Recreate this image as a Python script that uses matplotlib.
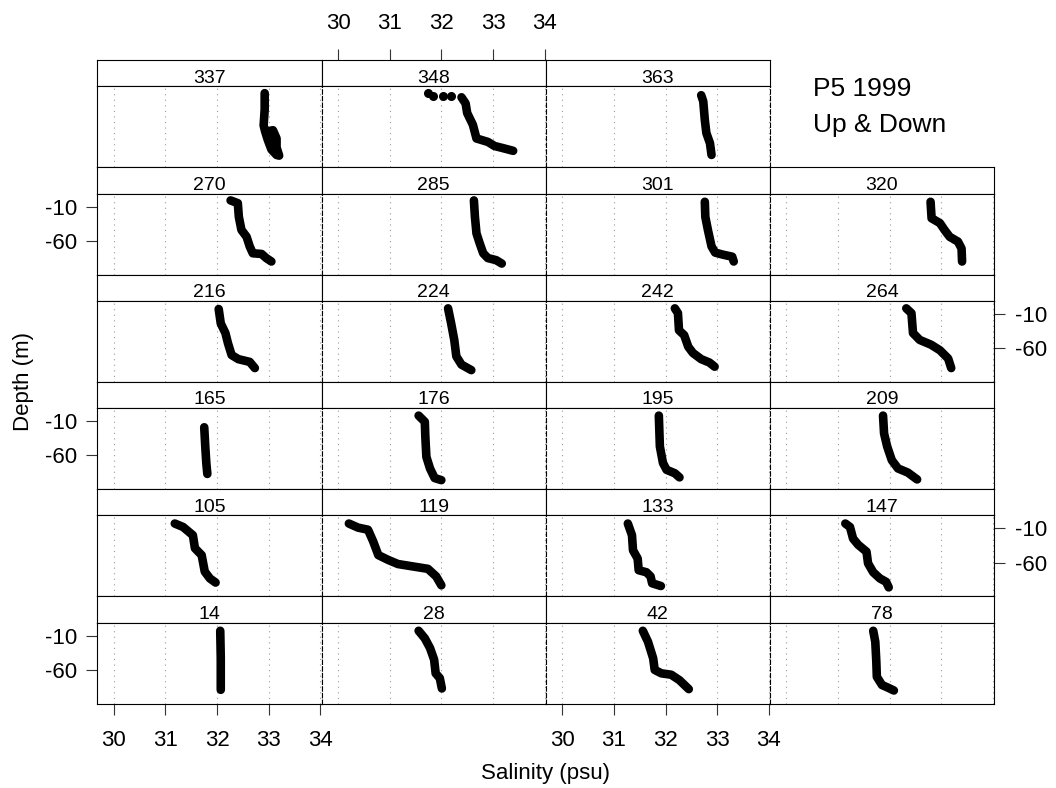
import matplotlib
matplotlib.use("Agg")
import matplotlib.pyplot as plt

plt.rcParams['font.family'] = ['Liberation Sans', 'DejaVu Sans']
plt.rcParams['axes.unicode_minus'] = False

# salinity (psu) / depth (m) profiles, one pair per station
sal_14 = [32.06, 32.07, 32.07]
dep_14 = [-3, -43, -89]
sal_28 = [31.56, 31.68, 31.78, 31.86, 31.89, 31.97, 32.01]
dep_28 = [-3, -14, -28, -45, -65, -72, -87]
sal_42 = [31.56, 31.66, 31.76, 31.79, 31.92, 32.11, 32.27, 32.45]
dep_42 = [-3, -19, -43, -60, -65, -67, -75, -88]
sal_78 = [31.68, 31.72, 31.74, 31.75, 31.85, 31.97, 32.08]
dep_78 = [-3, -19, -48, -70, -82, -86, -90]
sal_105 = [31.18, 31.34, 31.53, 31.57, 31.70, 31.76, 31.86, 31.97]
dep_105 = [-3, -8, -20, -39, -49, -73, -83, -89]
sal_119 = [30.21, 30.39, 30.58, 30.68, 30.78, 30.97, 31.16, 31.49, 31.74, 31.90, 32.00]
dep_119 = [-3, -9, -12, -29, -49, -56, -62, -66, -69, -80, -93]
sal_133 = [31.27, 31.35, 31.37, 31.46, 31.48, 31.63, 31.71, 31.74, 31.91]
dep_133 = [-3, -20, -42, -54, -71, -74, -80, -90, -94]
sal_147 = [31.14, 31.23, 31.29, 31.39, 31.55, 31.58, 31.68, 31.81, 31.93, 31.98]
dep_147 = [-3, -8, -25, -34, -44, -61, -74, -83, -88, -96]
sal_165 = [31.75, 31.77, 31.79, 31.81]
dep_165 = [-19, -47, -71, -87]
sal_176 = [31.56, 31.68, 31.69, 31.71, 31.78, 31.87, 32.00]
dep_176 = [-2, -11, -33, -62, -79, -93, -96]
sal_195 = [31.87, 31.89, 31.95, 32.02, 32.18, 32.27]
dep_195 = [-2, -47, -71, -81, -86, -92]
sal_209 = [31.87, 31.89, 31.95, 32.04, 32.16, 32.35, 32.53]
dep_209 = [-2, -28, -47, -67, -79, -85, -95]
sal_216 = [32.03, 32.07, 32.16, 32.21, 32.28, 32.41, 32.63, 32.73]
dep_216 = [-3, -24, -38, -53, -70, -76, -80, -89]
sal_224 = [32.13, 32.19, 32.25, 32.29, 32.39, 32.58]
dep_224 = [-2, -24, -48, -72, -84, -92]
sal_242 = [32.18, 32.24, 32.26, 32.36, 32.44, 32.53, 32.69, 32.85, 32.95]
dep_242 = [-2, -9, -34, -41, -58, -67, -76, -81, -87]
sal_264 = [32.32, 32.42, 32.45, 32.58, 32.80, 32.97, 33.13, 33.19]
dep_264 = [-2, -9, -38, -48, -55, -63, -75, -89]
sal_270 = [32.26, 32.40, 32.42, 32.47, 32.57, 32.63, 32.69, 32.86, 32.95, 33.05]
dep_270 = [-1, -5, -25, -44, -54, -68, -78, -79, -85, -90]
sal_285 = [32.63, 32.65, 32.68, 32.74, 32.81, 32.90, 33.06, 33.17]
dep_285 = [-1, -25, -49, -63, -78, -85, -88, -93]
sal_301 = [32.76, 32.77, 32.82, 32.89, 32.96, 33.11, 33.29, 33.32]
dep_301 = [-3, -25, -44, -68, -77, -80, -83, -90]
sal_320 = [32.79, 32.81, 32.97, 33.06, 33.16, 33.32, 33.39, 33.40]
dep_320 = [-3, -27, -34, -44, -54, -61, -71, -90]
sal_337 = [32.92, 32.92, 32.90, 32.93, 32.98, 33.05, 33.15, 33.20, 33.15, 33.15, 33.08, 32.95]
dep_337 = [-1, -25, -48, -57, -69, -83, -91, -92, -80, -67, -55, -57]
sal_348 = [32.39, 32.47, 32.50, 32.61, 32.68, 32.90, 33.03, 33.19, 33.39]
dep_348 = [-7, -16, -30, -47, -67, -72, -78, -81, -85]
sal_348_surface = [31.74, 31.84, 32.03, 32.18]
dep_348_surface = [-1, -5, -5, -5]
sal_363 = [32.69, 32.73, 32.76, 32.79, 32.86, 32.89]
dep_363 = [-4, -13, -40, -59, -74, -91]

# panel layout, top row first (lattice fills from the bottom left)
panel_rows = [
    [337, 348, 363, None],
    [270, 285, 301, 320],
    [216, 224, 242, 264],
    [165, 176, 195, 209],
    [105, 119, 133, 147],
    [14, 28, 42, 78],
]
profiles = {
    14: (sal_14, dep_14), 28: (sal_28, dep_28), 42: (sal_42, dep_42), 78: (sal_78, dep_78),
    105: (sal_105, dep_105), 119: (sal_119, dep_119), 133: (sal_133, dep_133), 147: (sal_147, dep_147),
    165: (sal_165, dep_165), 176: (sal_176, dep_176), 195: (sal_195, dep_195), 209: (sal_209, dep_209),
    216: (sal_216, dep_216), 224: (sal_224, dep_224), 242: (sal_242, dep_242), 264: (sal_264, dep_264),
    270: (sal_270, dep_270), 285: (sal_285, dep_285), 301: (sal_301, dep_301), 320: (sal_320, dep_320),
    337: (sal_337, dep_337), 348: (sal_348, dep_348), 363: (sal_363, dep_363),
}
x_ticks = [30, 31, 32, 33, 34]
y_ticks = [-10, -60]

W, H = 1056, 788
LEFT, PW = 97.3, 224.2
TOP, ROW_H, STRIP_H, PANEL_H = 60.0, 107.25, 26.3, 81.0
XLIM = (29.68, 34.02)
YLIM = (-109, 9)

fig = plt.figure(figsize=(W / 100, H / 100), dpi=100)


def rect(x, y, w, h):
    return [x / W, 1 - (y + h) / H, w / W, h / H]


tick_kw = dict(length=7.7, width=0.8, color='#333333', labelsize=16)

for r, row in enumerate(panel_rows):
    for c, st in enumerate(row):
        if st is None:
            continue
        x0 = LEFT + c * PW
        y0 = TOP + r * ROW_H

        # strip
        sax = fig.add_axes(rect(x0, y0, PW, STRIP_H))
        sax.set_xlim(*XLIM)
        sax.set_ylim(0, 1)
        sax.set_yticks([])
        sax.text(0.5, 0.14, str(st), transform=sax.transAxes, ha='center',
                 va='baseline', fontsize=14)
        for sp in sax.spines.values():
            sp.set_linewidth(0.8)
        if r == 0 and c == 1:
            sax.set_xticks(x_ticks)
            sax.tick_params(axis='x', top=True, labeltop=True, bottom=False,
                            labelbottom=False, pad=11, **tick_kw)
        else:
            sax.set_xticks([])

        # panel
        ax = fig.add_axes(rect(x0, y0 + STRIP_H, PW, PANEL_H))
        ax.set_xlim(*XLIM)
        ax.set_ylim(*YLIM)
        for v in x_ticks:
            ax.axvline(v, color='#999999', lw=0.8, ls=(0, (1, 4)), zorder=0)

        s, d = profiles[st]
        ax.plot(s, d, color='black', lw=6.2, solid_capstyle='round',
                solid_joinstyle='round')
        if st == 348:
            ax.plot(sal_348_surface, dep_348_surface, 'o', color='black',
                    ms=6.5, mew=0)

        for sp in ax.spines.values():
            sp.set_linewidth(0.8)
        if c > 0:
            ax.spines['left'].set_linestyle((0, (4, 2)))
        if c < 3:
            ax.spines['right'].set_linestyle((0, (4, 2)))

        if r == 5 and c in (0, 2):
            ax.set_xticks(x_ticks)
            ax.tick_params(axis='x', bottom=True, labelbottom=True, pad=11, **tick_kw)
        else:
            ax.set_xticks([])

        if c == 0 and r in (1, 3, 5):
            ax.set_yticks(y_ticks)
            ax.tick_params(axis='y', left=True, labelleft=True, pad=7, **tick_kw)
        elif c == 3 and r in (2, 4):
            ax.set_yticks(y_ticks)
            ax.yaxis.tick_right()
            ax.tick_params(axis='y', right=True, labelright=True, left=False,
                           labelleft=False, pad=7, **tick_kw)
        else:
            ax.set_yticks([])

fig.text(813 / W, 1 - 95.7 / H, 'P5 1999', fontsize=19, ha='left', va='baseline')
fig.text(813 / W, 1 - 132 / H, 'Up & Down', fontsize=19, ha='left', va='baseline')
fig.text((LEFT + 2 * PW) / W, 1 - 779 / H, 'Salinity (psu)', fontsize=16,
         ha='center', va='baseline')
fig.text(23 / W, 1 - 381.8 / H, 'Depth (m)', fontsize=16, rotation=90,
         ha='center', va='center')

fig.savefig('out.png', dpi=100)
